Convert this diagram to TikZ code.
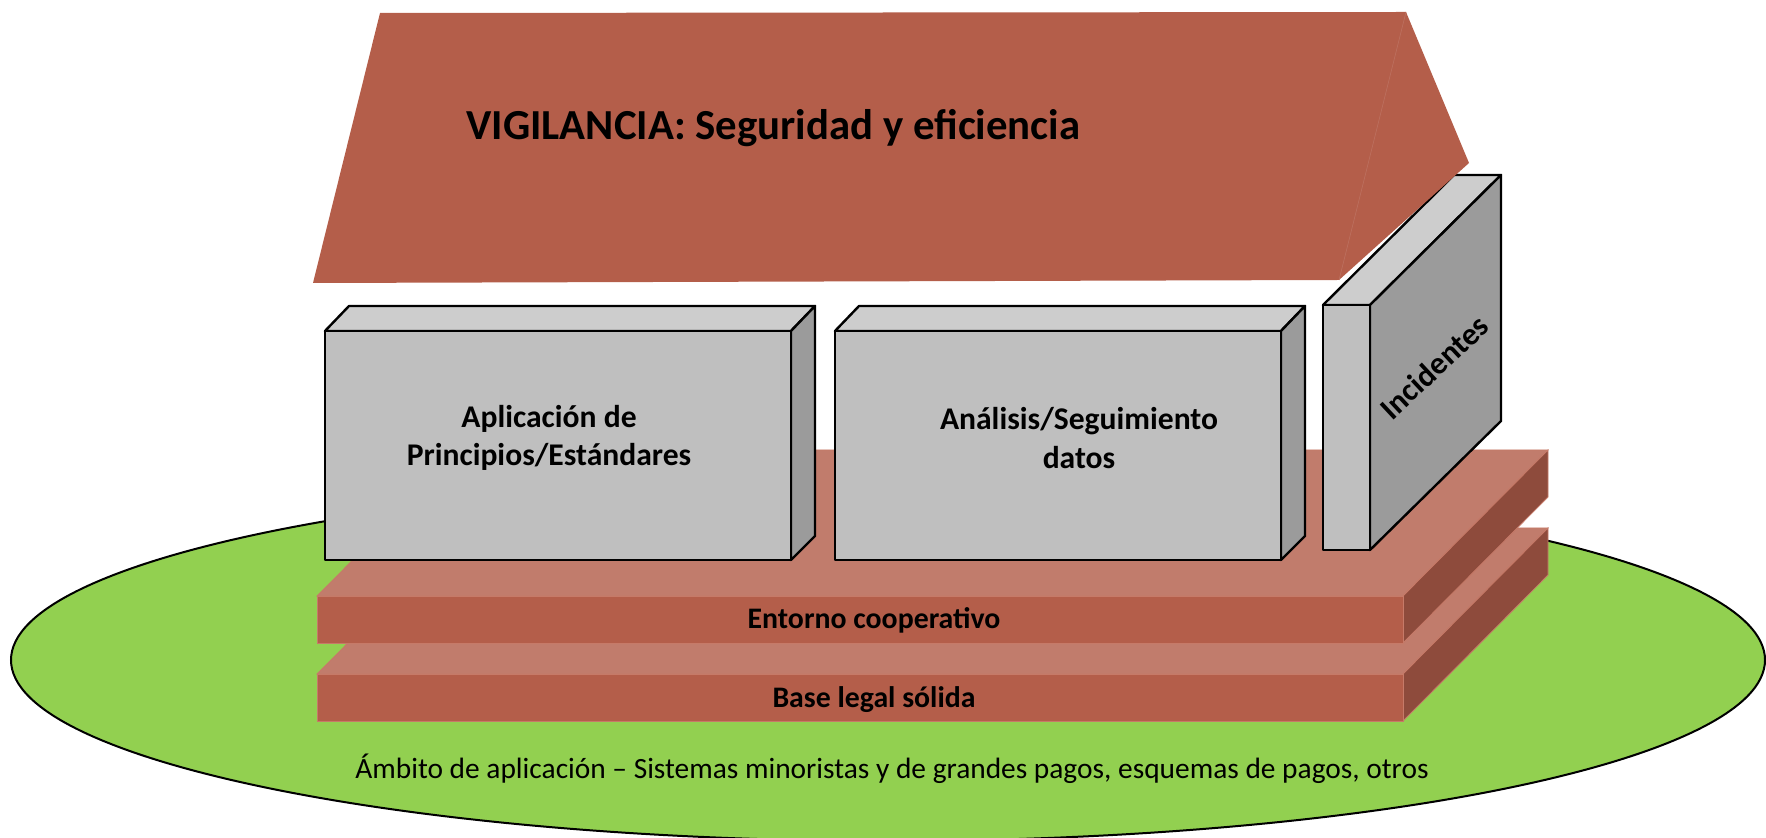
\documentclass[tikz,border=0pt]{standalone}
\usepackage{fontspec}
\setmainfont{Carlito}
\usetikzlibrary{positioning}

\definecolor{roofred}{RGB}{180,94,74}
\definecolor{slablight}{RGB}{193,124,108}
\definecolor{slabdark}{RGB}{142,75,60}
\definecolor{slabedge}{RGB}{198,122,104}
\definecolor{grayfront}{RGB}{191,191,191}
\definecolor{graytop}{RGB}{205,205,205}
\definecolor{grayside}{RGB}{155,155,155}
\definecolor{groundgreen}{RGB}{146,208,80}

\begin{document}
\begin{tikzpicture}[x=0.5pt,y=-0.5pt,
            frontface/.style={fill=grayfront,draw=black,line width=1.2pt,line join=round},
            topface/.style={fill=graytop,draw=black,line width=1.2pt,line join=round},
            sideface/.style={fill=grayside,draw=black,line width=1.2pt,line join=round},
            slabfront/.style={fill=roofred,draw=slabedge,line width=0.4pt},
            slabtop/.style={fill=slablight,draw=slabedge,line width=0.4pt},
            slabside/.style={fill=slabdark,draw=slabedge,line width=0.4pt},
            boxtext/.style={inner sep=0pt,font=\fontsize{15.8}{19.3}\selectfont\bfseries},
            slabtext/.style={inner sep=0pt,font=\fontsize{14.9}{18}\selectfont\bfseries},
            groundtext/.style={inner sep=0pt,font=\fontsize{14.7}{18}\selectfont}]
            \useasboundingbox (0,0) rectangle (1766,838);

            % ground
            \draw[fill=groundgreen,line width=1pt] (888,660) ellipse [x radius=877,y radius=181];

            % lower slab
            \filldraw[slabtop] (317,674) -- (462,528) -- (1548,528) -- (1403,674) -- cycle;
            \filldraw[slabside] (1403,674) -- (1548,528) -- (1548,575) -- (1403,721) -- cycle;
            \filldraw[slabfront] (317,674) rectangle (1403,721);

            % upper slab
            \filldraw[slabtop] (317,596) -- (462,450) -- (1548,450) -- (1403,596) -- cycle;
            \filldraw[slabside] (1403,596) -- (1548,450) -- (1548,497) -- (1403,643) -- cycle;
            \filldraw[slabfront] (317,596) rectangle (1403,643);

            % pillars
            \filldraw[topface] (325,331) -- (349,306) -- (815,306) -- (791,331) -- cycle;
            \filldraw[sideface] (791,331) -- (815,306) -- (815,536) -- (791,560) -- cycle;
            \filldraw[frontface] (325,331) rectangle (791,560);

            \filldraw[topface] (835,331) -- (859,306) -- (1305,306) -- (1281,331) -- cycle;
            \filldraw[sideface] (1281,331) -- (1305,306) -- (1305,536) -- (1281,560) -- cycle;
            \filldraw[frontface] (835,331) rectangle (1281,560);

            \filldraw[topface] (1323,305) -- (1454,175) -- (1501,175) -- (1370,305) -- cycle;
            \filldraw[sideface] (1370,305) -- (1501,175) -- (1501,421) -- (1370,550) -- cycle;
            \filldraw[frontface] (1323,305) rectangle (1370,550);

            % roof
            \fill[roofred] (380,13) -- (1406,12) -- (1469,163) -- (1339,280) -- (313,283) -- cycle;
            \draw[roofred!88!white,line width=0.3pt] (1406,12) -- (1339,280);

            \node[boxtext,anchor=base west,font=\fontsize{21.4}{26}\selectfont\bfseries] (vigilancia) at (466,140) {VIGILANCIA: Seguridad y eficiencia};
            \node[boxtext,align=center] (principios) at (549,438) {Aplicación de\\Principios/Estándares};
            \node[boxtext,align=center] (analisis) at (1079,438) {Análisis/Seguimiento\\datos};
            \node[boxtext,rotate=43] (incidentes) at (1434,367) {Incidentes};
            \node[slabtext,anchor=base] (entorno) at (874,629) {Entorno cooperativo};
            \node[slabtext,anchor=base] (baselegal) at (874,708) {Base legal sólida};
            \node[groundtext,anchor=base] (ambito) at (892,778) {Ámbito de aplicación – Sistemas minoristas y de grandes pagos, esquemas de pagos, otros};
          \end{tikzpicture}
\end{document}
